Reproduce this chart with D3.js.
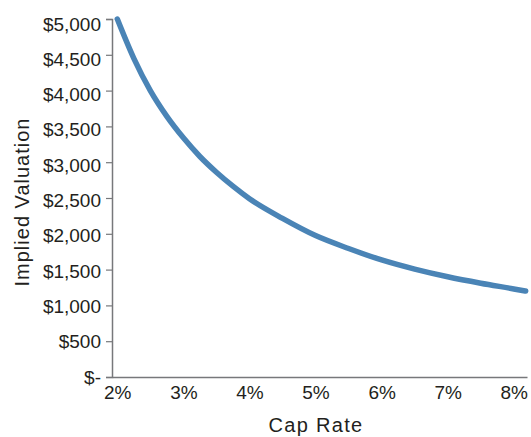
<!DOCTYPE html>
<html>
<head>
<meta charset="utf-8">
<script src="https://cdn.jsdelivr.net/npm/d3@7"></script>
<style>
  html, body { margin: 0; padding: 0; background: #fff; }
  svg { display: block; }
  text { font-family: "Liberation Sans", Arial, Helvetica, sans-serif; fill: #231f20; }
</style>
</head>
<body>
<svg id="chart" width="531" height="437"></svg>
<script>
// Data
const capRates = [2.0, 2.25, 2.5, 2.75, 3.0, 3.25, 3.5, 3.75, 4.0, 4.5, 5.0, 5.5, 6.0, 6.5, 7.0, 7.5, 8.0, 8.18];
const valuations = [5000, 4450, 4000, 3640, 3340, 3080, 2860, 2665, 2490, 2215, 1975, 1795, 1635, 1507, 1400, 1310, 1230, 1200];
const xTicks = [2, 3, 4, 5, 6, 7, 8];
const yTicks = [0, 500, 1000, 1500, 2000, 2500, 3000, 3500, 4000, 4500, 5000];
const xTitle = "Cap Rate";
const yTitle = "Implied Valuation";

const svg = d3.select("#chart");
const axisColor = "#77787b";
const lineColor = "#4a84b6";

const x = d3.scaleLinear().domain([1.92, 8.2]).range([112, 527]);
const y = d3.scaleLinear().domain([0, 5000]).range([377, 19]);

// Y axis
const yAxis = d3.axisLeft(y)
  .tickValues(yTicks)
  .tickSize(6)
  .tickPadding(5)
  .tickFormat(v => v === 0 ? "$-" : "$" + d3.format(",")(v));
const gy = svg.append("g").attr("transform", "translate(112,0)").call(yAxis);
gy.select(".domain").attr("stroke", axisColor).attr("stroke-width", 1.5);
gy.selectAll(".tick line").attr("stroke", axisColor).attr("stroke-width", 1.2);
gy.selectAll(".tick text")
  .attr("font-size", 19)
  .attr("font-family", "Liberation Sans, Arial, sans-serif")
  .attr("fill", "#231f20")
  .attr("dy", d => (6 + d / 5000 * 5) + "px");

// X axis
const xAxis = d3.axisBottom(x)
  .tickValues(xTicks)
  .tickSize(0)
  .tickPadding(9)
  .tickFormat(v => v + "%");
const gx = svg.append("g").attr("transform", "translate(0,377)").call(xAxis);
gx.select(".domain").attr("stroke", axisColor).attr("stroke-width", 1.5);
gx.selectAll(".tick text")
  .attr("font-size", 19)
  .attr("font-family", "Liberation Sans, Arial, sans-serif")
  .attr("fill", "#231f20");

// Line
const line = d3.line()
  .x((d, i) => x(capRates[i]))
  .y(d => y(d))
  .curve(d3.curveMonotoneX);
svg.append("path")
  .datum(valuations)
  .attr("d", line)
  .attr("fill", "none")
  .attr("stroke", lineColor)
  .attr("stroke-width", 5.5)
  .attr("stroke-linecap", "round")
  .attr("stroke-linejoin", "round");

// Titles
svg.append("text")
  .attr("x", 316)
  .attr("y", 432)
  .attr("text-anchor", "middle")
  .attr("font-size", 20)
  .attr("letter-spacing", "1.3px")
  .text(xTitle);

svg.append("text")
  .attr("transform", "translate(29,202) rotate(-90)")
  .attr("text-anchor", "middle")
  .attr("font-size", 20)
  .attr("letter-spacing", "1px")
  .text(yTitle);
</script>
</body>
</html>
